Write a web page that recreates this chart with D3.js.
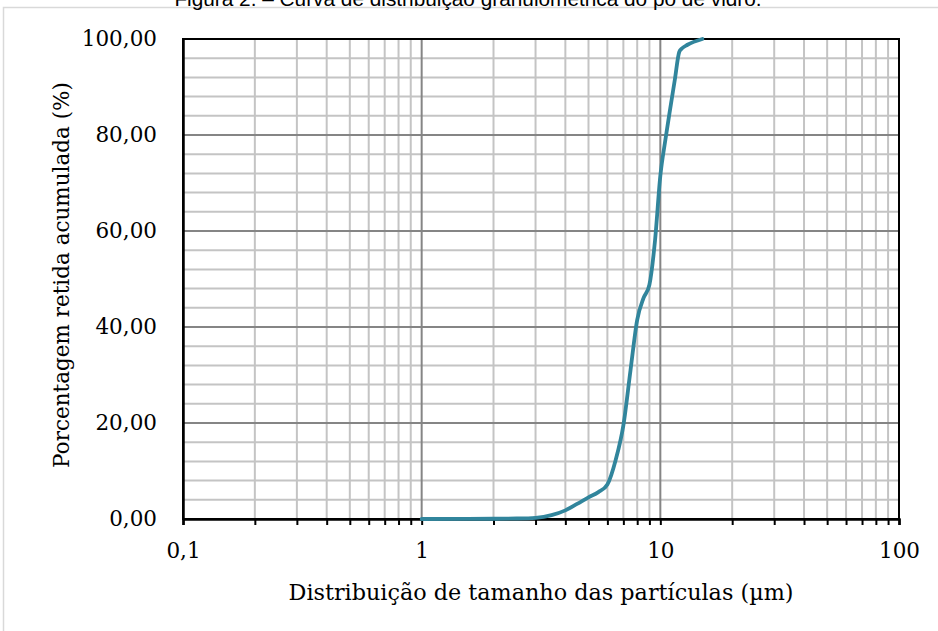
<!DOCTYPE html>
<html>
<head>
<meta charset="utf-8">
<script src="https://cdn.jsdelivr.net/npm/d3@7/dist/d3.min.js"></script>
<style>
  html, body { margin: 0; padding: 0; background: #ffffff; }
  svg { display: block; }
</style>
</head>
<body>
<svg id="chart" width="938" height="631"></svg>
<script>
// ---- data ----
const titleText = "Figura 2. – Curva de distribuição granulométrica do pó de vidro.";
const xAxisTitle = "Distribuição de tamanho das partículas (µm)";
const yAxisTitle = "Porcentagem retida acumulada (%)";

// particle size (µm)
const sizes = [1, 2, 2.5, 3, 3.5, 4, 4.5, 5, 5.5, 6, 6.5, 7, 7.5, 8, 8.5, 9, 9.5, 10, 10.5, 11, 11.5, 12, 12.3, 13, 15];
// cumulative retained percentage (%)
const cumulative = [0, 0.05, 0.1, 0.25, 0.8, 1.8, 3.2, 4.5, 5.6, 7.2, 12.3, 19.5, 31, 41.5, 46, 48.8, 58, 71.5, 79, 85.5, 91.5, 97.3, 98, 98.8, 100];

const xMajorTicks = [0.1, 1, 10, 100];
const xMajorLabels = ["0,1", "1", "10", "100"];
const yTicks = [0, 20, 40, 60, 80, 100];

// ---- layout ----
const svg = d3.select("#chart");
const L = 183, R = 899, T = 39, B = 519;

const x = d3.scaleLog().domain([0.1, 100]).range([L, R]);
const y = d3.scaleLinear().domain([0, 100]).range([B, T]);

const locale = d3.formatLocale({decimal: ",", thousands: ".", grouping: [3], currency: ["", ""]});
const fmtY = locale.format(".2f");

// outer frame
svg.append("rect")
  .attr("x", 3.5).attr("y", 7.5).attr("width", 950).attr("height", 640)
  .attr("fill", "none").attr("stroke", "#d9d9d9").attr("stroke-width", 1.5);

// title (clipped at top, as in the reference)
svg.append("text")
  .attr("x", 468).attr("y", 6)
  .attr("text-anchor", "middle")
  .attr("font-family", "'Liberation Sans', Arial, sans-serif")
  .attr("font-size", 20.8)
  .attr("fill", "#000")
  .text(titleText);

// all log-position ticks (minor + major)
const allX = [];
[0.1, 1, 10].forEach(dec => { for (let k = 1; k < 10; k++) allX.push(+(dec * k).toPrecision(3)); });
allX.push(100);

const gridG = svg.append("g");
const yMinor = d3.range(0, 101, 4).filter(v => v % 20 !== 0);
gridG.selectAll("line.hmin").data(yMinor).join("line")
  .attr("x1", L).attr("x2", R)
  .attr("y1", d => y(d)).attr("y2", d => y(d))
  .attr("stroke", "#c4c4c4").attr("stroke-width", 2);
gridG.selectAll("line.vmin").data(allX.filter(v => !xMajorTicks.includes(v))).join("line")
  .attr("y1", T).attr("y2", B)
  .attr("x1", d => x(d)).attr("x2", d => x(d))
  .attr("stroke", "#c4c4c4").attr("stroke-width", 2);
gridG.selectAll("line.hmaj").data(yTicks).join("line")
  .attr("x1", L).attr("x2", R)
  .attr("y1", d => y(d)).attr("y2", d => y(d))
  .attr("stroke", "#858585").attr("stroke-width", 2);
gridG.selectAll("line.vmaj").data(xMajorTicks).join("line")
  .attr("y1", T).attr("y2", B)
  .attr("x1", d => x(d)).attr("x2", d => x(d))
  .attr("stroke", "#858585").attr("stroke-width", 2);

// plot-area border
svg.append("rect")
  .attr("x", L).attr("y", T).attr("width", R - L).attr("height", B - T)
  .attr("fill", "none").attr("stroke", "#000").attr("stroke-width", 2);

// x axis
const xAxis = d3.axisBottom(x)
  .tickValues(allX)
  .tickSize(6)
  .tickPadding(18)
  .tickFormat(d => { const i = xMajorTicks.indexOf(d); return i >= 0 ? xMajorLabels[i] : ""; });
const gx = svg.append("g").attr("transform", `translate(0,${B})`).call(xAxis);
gx.select(".domain").attr("stroke", "#000").attr("stroke-width", 2.5);
gx.selectAll(".tick line").attr("stroke", "#000").attr("stroke-width", 2);
gx.selectAll(".tick text")
  .attr("font-family", "'DejaVu Serif', serif").attr("font-size", 21.5).attr("fill", "#000");

// y axis
const yAxis = d3.axisLeft(y).tickValues(yTicks).tickSize(0).tickPadding(26).tickFormat(fmtY);
const gy = svg.append("g").attr("transform", `translate(${L},0)`).call(yAxis);
gy.select(".domain").attr("stroke", "#000").attr("stroke-width", 2.5);
gy.selectAll(".tick text")
  .attr("font-family", "'DejaVu Serif', serif").attr("font-size", 21.5).attr("fill", "#000");

// curve
const pts = sizes.map((s, i) => [s, cumulative[i]]);
const line = d3.line().x(d => x(d[0])).y(d => y(d[1])).curve(d3.curveMonotoneX);
svg.append("path")
  .datum(pts)
  .attr("d", line)
  .attr("fill", "none")
  .attr("stroke", "#31859C")
  .attr("stroke-width", 3.8)
  .attr("stroke-linejoin", "round")
  .attr("stroke-linecap", "round");

// axis titles
svg.append("text")
  .attr("x", 541).attr("y", 600)
  .attr("text-anchor", "middle")
  .attr("font-family", "'DejaVu Serif', serif")
  .attr("font-size", 22.3)
  .attr("fill", "#000")
  .text(xAxisTitle);

svg.append("text")
  .attr("transform", "translate(69,275) rotate(-90)")
  .attr("text-anchor", "middle")
  .attr("font-family", "'DejaVu Serif', serif")
  .attr("font-size", 21.5)
  .attr("fill", "#000")
  .text(yAxisTitle);
</script>
</body>
</html>
